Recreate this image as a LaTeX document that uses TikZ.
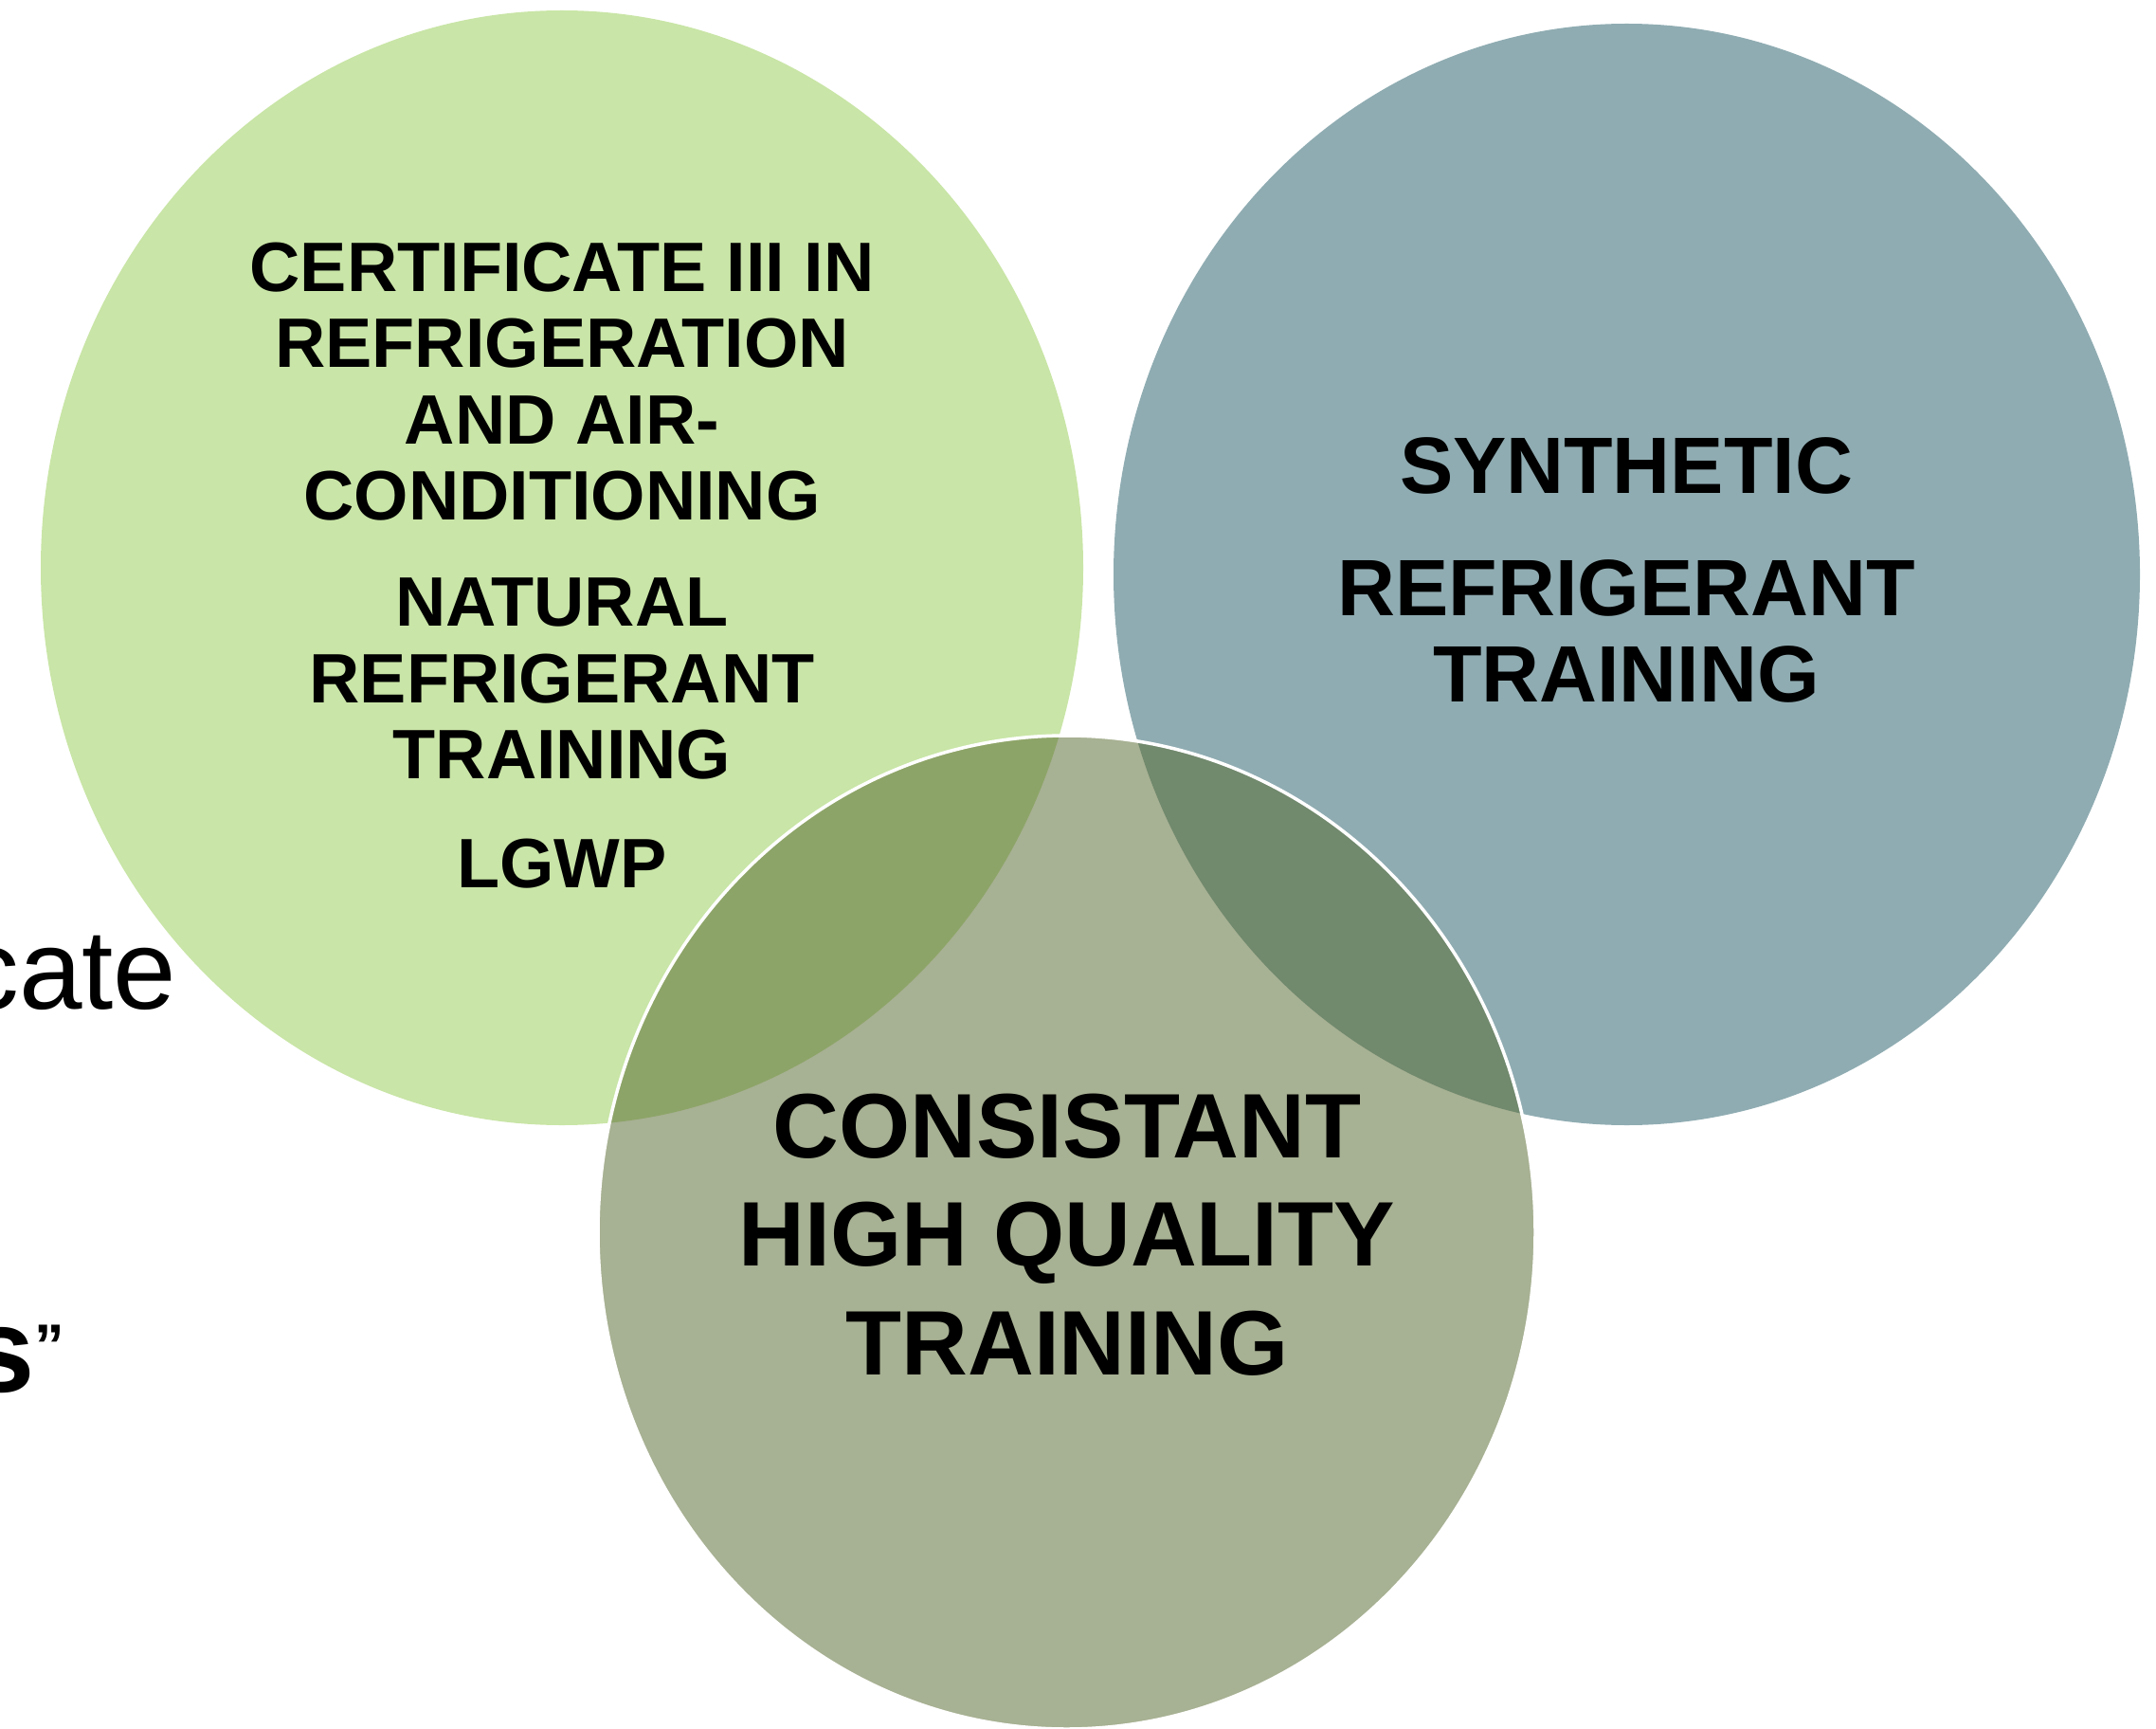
\documentclass[tikz,border=0pt]{standalone}
\usepackage{fontspec}
\setmainfont{Liberation Sans}
\begin{document}
\begin{tikzpicture}[
  vennlabel/.style={inner sep=0pt,align=center,anchor=north},
  slidetext/.style={inner sep=0pt,anchor=base east},
  ]
\definecolor{ccgreen}{rgb}{0.788,0.898,0.655}
\definecolor{ccblue}{rgb}{0.561,0.675,0.698}
\definecolor{ccolive}{rgb}{0.337,0.412,0.184}
\useasboundingbox (0.,0.) rectangle (22.75,18.23);
\draw (1.87,7.59) node[slidetext,font=\fontsize{34}{40}\selectfont] (bgcate) {cate};
\draw (0.69,3.55) node[slidetext,font=\fontsize{36}{42}\selectfont\bfseries] (bgquote) {s\raisebox{0.27cm}{\fontsize{18}{20}\selectfont ”}};
\fill [color=ccgreen] (5.93,12.24) ellipse (5.5 and 5.88);
\fill [color=ccblue] (17.165,12.17) ellipse (5.415 and 5.81);
\draw [line width=1pt,color=white,fill=ccolive,fill opacity=0.52] (11.255,5.23) ellipse (4.945 and 5.24);
\draw (5.93,15.68) node[vennlabel,font=\fontsize{21}{22.9}\selectfont\bfseries] (certificate) {CERTIFICATE III IN\\REFRIGERATION\\AND AIR-\\CONDITIONING\\[9pt]NATURAL\\REFRIGERANT\\TRAINING\\[9.7pt]LGWP};
\draw (17.16,13.62) node[vennlabel,font=\fontsize{24}{25.9}\selectfont\bfseries] (synthetic) {SYNTHETIC\\[10.7pt]REFRIGERANT\\TRAINING};
\draw (11.26,6.70) node[vennlabel,font=\fontsize{27.5}{32.6}\selectfont\bfseries] (consistant) {CONSISTANT\\HIGH QUALITY\\TRAINING};
\end{tikzpicture}
\end{document}
